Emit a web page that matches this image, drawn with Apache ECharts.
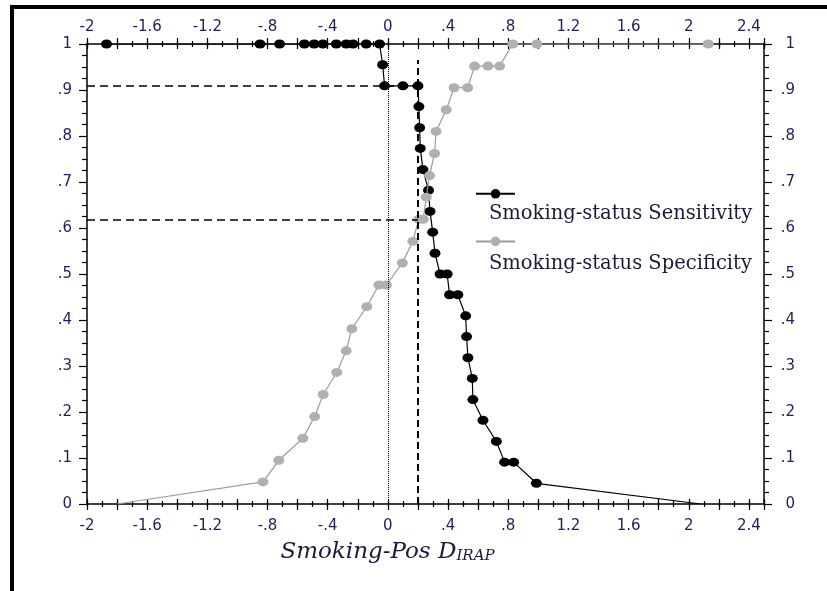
<!DOCTYPE html>
<html><head><meta charset="utf-8">
<script src="https://cdn.jsdelivr.net/npm/echarts@6/dist/echarts.min.js"></script>
<style>html,body{margin:0;padding:0;background:#fff}#c{width:827px;height:591px}</style>
</head><body><div id="c"></div>
<script>
// ---- data ----
const seriesNames = ['Smoking-status Sensitivity', 'Smoking-status Specificity'];
const sensX = [-1.87, -0.85, -0.72, -0.555, -0.49, -0.432, -0.343, -0.277, -0.232, -0.144, -0.055,
  -0.035, -0.022, 0.1, 0.2, 0.206, 0.211, 0.215, 0.233, 0.27, 0.28, 0.298, 0.313, 0.347, 0.394,
  0.41, 0.465, 0.517, 0.523, 0.532, 0.561, 0.565, 0.632, 0.721, 0.776, 0.836, 0.987, 2.08];
const sensY = [1, 1, 1, 1, 1, 1, 1, 1, 1, 1, 1,
  0.955, 0.909, 0.909, 0.909, 0.864, 0.818, 0.773, 0.727, 0.682, 0.636, 0.591, 0.545, 0.5, 0.5,
  0.455, 0.455, 0.409, 0.364, 0.318, 0.273, 0.227, 0.182, 0.136, 0.091, 0.091, 0.045, 0];
const specX = [-1.8, -0.83, -0.725, -0.565, -0.487, -0.43, -0.34, -0.277, -0.24, -0.14, -0.06, -0.01,
  0.096, 0.166, 0.205, 0.235, 0.255, 0.277, 0.31, 0.32, 0.388, 0.44, 0.53, 0.576, 0.665, 0.743, 0.83, 0.99, 2.13];
const specY = [0, 0.048, 0.095, 0.143, 0.190, 0.238, 0.286, 0.333, 0.381, 0.429, 0.476, 0.476,
  0.524, 0.571, 0.619, 0.619, 0.667, 0.714, 0.762, 0.810, 0.857, 0.905, 0.905, 0.952, 0.952, 0.952, 1, 1, 1];
const xTickLabels = ['-2', '-1.6', '-1.2', '-.8', '-.4', '0', '.4', '.8', '1.2', '1.6', '2', '2.4'];
const yTickLabels = ['0', '.1', '.2', '.3', '.4', '.5', '.6', '.7', '.8', '.9', '1'];
const refX = [0, 0.2];          // dotted zero line, dashed cut-off line
const refSens = 0.909, refSpec = 0.619, refTop = 0.965;
const xMin = -2, xMax = 2.5;

// ---- helpers ----
const labelColor = '#1f1f5c';
function xLabel(v) {
  const k = (v - xMin) / 0.4;
  const r = Math.round(k);
  return Math.abs(k - r) < 1e-6 && r < xTickLabels.length ? xTickLabels[r] : '';
}
function yLabel(v) { return yTickLabels[Math.round(v * 10)] || ''; }
function pts(xs, ys) {
  return xs.map((x, i) => ys[i] === 0 ? { value: [x, ys[i]], symbol: 'none' } : [x, ys[i]]);
}
const tickFont = { fontFamily: 'DejaVu Sans', fontSize: 15, color: labelColor };
function xAx(pos, opts) {
  return Object.assign({
    type: 'value', position: pos, min: xMin, max: xMax, interval: 0.1,
    axisLine: { show: false, onZero: false }, axisTick: { show: false }, axisLabel: { show: false },
    splitLine: { show: false }, silent: true
  }, opts);
}
function yAx(pos, margin) {
  return {
    type: 'value', position: pos, min: 0, max: 1, interval: 0.1,
    axisLine: { show: true, onZero: false, lineStyle: { color: '#000', width: 1.5 } },
    axisTick: { show: true, inside: false, length: 8, lineStyle: { color: '#000', width: 1.2 } },
    minorTick: { show: true, splitNumber: 4, length: 5, lineStyle: { color: '#000', width: 1.2 } },
    axisLabel: Object.assign({ formatter: yLabel, margin: margin, align: 'right' }, tickFont),
    splitLine: { show: false }, silent: true
  };
}
const tickStyle = { color: '#000', width: 1.2 };
const mainLine = { show: true, onZero: false, lineStyle: { color: '#000', width: 1.5 } };

const chart = echarts.init(document.getElementById('c'), null, { renderer: 'canvas' });
chart.setOption({
  animation: false,
  backgroundColor: '#fff',
  grid: { left: 87, right: 63, top: 44, bottom: 87 },
  xAxis: [
    xAx('bottom', {
      axisLine: mainLine,
      name: '{a|Smoking-Pos D}{b|IRAP}', nameLocation: 'middle', nameGap: 37,
      nameTextStyle: {
        padding: [0, 76, 0, 0],
        rich: {
          a: { fontFamily: 'DejaVu Serif', fontStyle: 'italic', fontSize: 23, color: '#1a1a40' },
          b: { fontFamily: 'DejaVu Serif', fontStyle: 'italic', fontSize: 15, color: '#1a1a40', verticalAlign: 'bottom' }
        }
      }
    }),
    xAx('bottom', { offset: -3, axisTick: { show: true, length: 6, lineStyle: tickStyle } }),
    xAx('bottom', { offset: -5, interval: 0.2, axisTick: { show: true, length: 11, lineStyle: tickStyle },
      axisLabel: Object.assign({ show: true, formatter: xLabel, margin: 20 }, tickFont) }),
    xAx('top', { axisLine: mainLine }),
    xAx('top', { offset: -3, axisTick: { show: true, length: 6, lineStyle: tickStyle } }),
    xAx('top', { offset: -5, interval: 0.2, axisTick: { show: true, length: 11, lineStyle: tickStyle },
      axisLabel: Object.assign({ show: true, formatter: xLabel, margin: 14 }, tickFont) })
  ],
  yAxis: [yAx('left', 15), yAx('right', 31)],
  legend: [
    {
      data: seriesNames, orient: 'vertical', left: 470, top: 184,
      itemWidth: 39, itemHeight: 12, itemGap: 38, selectedMode: false,
      formatter: () => '', textStyle: { fontSize: 12, lineHeight: 12 }
    },
    {
      data: seriesNames, orient: 'vertical', left: 478, top: 198,
      itemWidth: 0, itemHeight: 0, itemGap: 28, selectedMode: false,
      itemStyle: { opacity: 0 }, lineStyle: { opacity: 0 },
      textStyle: { fontFamily: 'DejaVu Serif', fontSize: 19.5, lineHeight: 22, color: '#1a1a3a' }
    }
  ],
  graphic: [
    { type: 'rect', shape: { x: 10, y: 5, width: 817, height: 4 }, style: { fill: '#000' }, silent: true },
    { type: 'rect', shape: { x: 10, y: 5, width: 4, height: 586 }, style: { fill: '#000' }, silent: true }
  ],
  series: [
    {
      type: 'line', name: seriesNames[0], xAxisIndex: 0, yAxisIndex: 0,
      data: pts(sensX, sensY),
      symbol: 'circle', symbolSize: [11, 9], showSymbol: true,
      itemStyle: { color: '#000' }, lineStyle: { color: '#000', width: 1.2 },
      emphasis: { disabled: true }, silent: true, z: 3,
      markLine: {
        silent: true, symbol: 'none', label: { show: false }, animation: false,
        emphasis: { disabled: true },
        data: [
          [{ coord: [refX[0], 0], lineStyle: { type: [1, 1], width: 1, color: '#000' } },
           { coord: [refX[0], 1], lineStyle: { type: [1, 1], width: 1, color: '#000' } }],
          [{ coord: [refX[1], 0], lineStyle: { type: [7, 4], width: 2, color: '#000' } },
           { coord: [refX[1], refTop], lineStyle: { type: [7, 4], width: 2, color: '#000' } }],
          [{ coord: [xMin, refSens], lineStyle: { type: [8, 5], width: 1.5, color: '#000' } },
           { coord: [refX[1], refSens], lineStyle: { type: [8, 5], width: 1.5, color: '#000' } }],
          [{ coord: [xMin, refSpec], lineStyle: { type: [8, 5], width: 1.5, color: '#000' } },
           { coord: [refX[1], refSpec], lineStyle: { type: [8, 5], width: 1.5, color: '#000' } }]
        ]
      }
    },
    {
      type: 'line', name: seriesNames[1], xAxisIndex: 0, yAxisIndex: 0,
      data: pts(specX, specY),
      symbol: 'circle', symbolSize: [11, 9], showSymbol: true,
      itemStyle: { color: '#b0b0b0' }, lineStyle: { color: '#9c9c9c', width: 1.2 },
      emphasis: { disabled: true }, silent: true, z: 4
    }
  ]
});
</script></body></html>
